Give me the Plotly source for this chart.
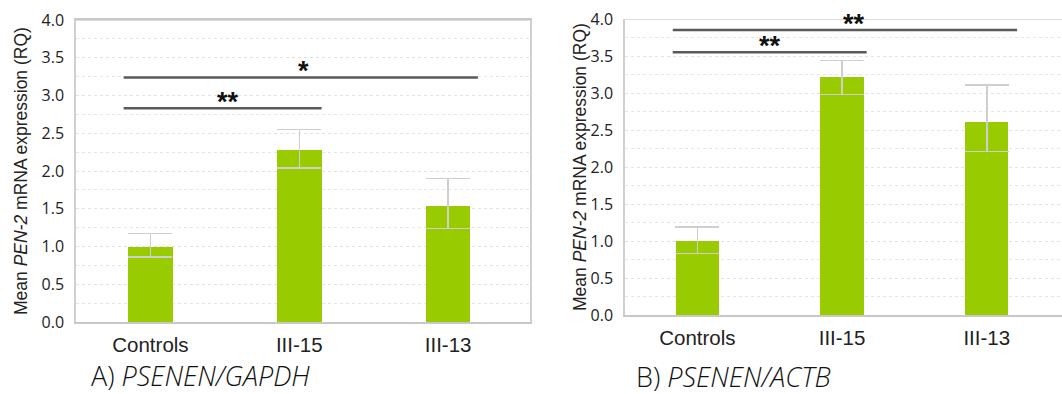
import plotly.graph_objects as go

W, H = 1062, 394

categories = ["Controls", "III-15", "III-13"]

# Panel A: PSENEN/GAPDH
a_values = [1.00, 2.28, 1.54]
a_err_up = [0.17, 0.27, 0.36]
a_err_down = [0.14, 0.24, 0.30]
# significance bars
a_sig_x0 = [-0.18, -0.18]
a_sig_x1 = [1.15, 2.20]
a_sig_y = [2.83, 3.24]
a_sig_text = ["**", "*"]
a_sig_tx = [0.52, 1.03]

# Panel B: PSENEN/ACTB
b_values = [1.00, 3.21, 2.61]
b_err_up = [0.19, 0.23, 0.50]
b_err_down = [0.17, 0.23, 0.40]
b_sig_x0 = [-0.17, -0.17]
b_sig_x1 = [1.17, 2.21]
b_sig_y = [3.55, 3.85]
b_sig_text = ["**", "**"]
b_sig_tx = [0.50, 1.08]

y_ticks = [0.0, 0.5, 1.0, 1.5, 2.0, 2.5, 3.0, 3.5, 4.0]
y_title = "Mean <i>PEN-2</i> mRNA expression (RQ)"
captions = ["A) <i>PSENEN/GAPDH</i>", "B) <i>PSENEN/ACTB</i>"]

GREEN = "#99cc00"
ERR = "#cfcfcf"
SIG = "#5a5a5a"

fig = go.Figure()

def px_x(p):
    return p / W

def px_y(p):
    return 1 - p / H

panels = [
    dict(vals=a_values, up=a_err_up, dn=a_err_down, x0=a_sig_x0, x1=a_sig_x1, sy=a_sig_y,
         st=a_sig_text, stx=a_sig_tx, xa="x", ya="y",
         dom_x=[px_x(76), px_x(530)], dom_y=[px_y(322), px_y(20)], xr=[-0.5, 2.55],
         mirror=True, title_x=21, cap_x=89, cap_y=375),
    dict(vals=b_values, up=b_err_up, dn=b_err_down, x0=b_sig_x0, x1=b_sig_x1, sy=b_sig_y,
         st=b_sig_text, stx=b_sig_tx, xa="x2", ya="y2",
         dom_x=[px_x(625), px_x(1062)], dom_y=[px_y(315), px_y(19)], xr=[-0.5, 2.52],
         mirror=False, title_x=580, cap_x=634, cap_y=376),
]

annotations = []
shapes = []
for i, p in enumerate(panels):
    fig.add_trace(go.Bar(
        x=list(range(len(categories))), y=p["vals"], width=0.30,
        marker=dict(color=GREEN, line=dict(width=0)),
        error_y=dict(type="data", array=p["up"], arrayminus=p["dn"], symmetric=False,
                     color=ERR, thickness=1.5, width=22),
        xaxis=p["xa"], yaxis=p["ya"], showlegend=False, hoverinfo="skip",
    ))
    sfx = "" if i == 0 else "2"
    fig.update_layout(**{
        "xaxis" + sfx: dict(domain=p["dom_x"], range=p["xr"], tickmode="array",
                            tickvals=list(range(len(categories))), ticktext=categories,
                            showgrid=False, zeroline=False, showline=True,
                            linecolor="#c8c8c8", linewidth=1.5, mirror=p["mirror"],
                            ticks="", ticklabelstandoff=4, automargin=False,
                            tickfont=dict(family="Liberation Sans, Arial", size=20.5, color="#222"),
                            anchor="y" + sfx),
        "yaxis" + sfx: dict(domain=p["dom_y"], range=[0, 4.0], tickmode="array",
                            tickvals=y_ticks, ticktext=[f"{v:.1f}" for v in y_ticks],
                            showgrid=True, gridcolor="#e2e2e2", griddash="dot", gridwidth=1,
                            minor=dict(dtick=0.25, showgrid=True, gridcolor="#e6e6e6",
                                       griddash="dot", gridwidth=1),
                            zeroline=False, showline=True, linecolor="#d0d0d0", linewidth=1.5,
                            mirror=p["mirror"], ticks="", ticklabelstandoff=7,
                            automargin=False,
                            tickfont=dict(family="Open Sans", size=16, color="#222"),
                            anchor="x" + sfx),
    })
    # top border line at 4.0
    shapes.append(dict(type="line", xref="paper",
                       x0=p["dom_x"][0], x1=p["dom_x"][1], yref=p["ya"], y0=4.0, y1=4.0,
                       line=dict(color="#d0d0d0", width=1.5)))
    for x0, x1, yv, txt, tx in zip(p["x0"], p["x1"], p["sy"], p["st"], p["stx"]):
        shapes.append(dict(type="line", xref=p["xa"], yref=p["ya"], x0=x0, x1=x1, y0=yv, y1=yv,
                           line=dict(color=SIG, width=2.5)))
        annotations.append(dict(xref=p["xa"], yref=p["ya"], x=tx, y=yv, text="<b>" + txt + "</b>",
                                showarrow=False, yanchor="bottom", yshift=-11,
                                font=dict(family="Liberation Sans, Arial", size=27, color="#111")))
    annotations.append(dict(xref="paper", yref="paper", x=px_x(p["title_x"]),
                            y=(p["dom_y"][0] + p["dom_y"][1]) / 2, text=y_title, textangle=-90,
                            showarrow=False, xanchor="center", yanchor="middle",
                            font=dict(family="Liberation Sans, Arial", size=17.5, color="#222")))
    annotations.append(dict(xref="paper", yref="paper", x=px_x(p["cap_x"]), y=px_y(p["cap_y"]),
                            text=captions[i], showarrow=False, xanchor="left", yanchor="middle",
                            font=dict(family="Open Sans", size=27, color="#111", weight=300)))

fig.update_layout(width=W, height=H, margin=dict(l=0, r=0, t=0, b=0),
                  paper_bgcolor="white", plot_bgcolor="white",
                  shapes=shapes, annotations=annotations, bargap=0)
fig.write_html("out.html", config={"displayModeBar": False},
               post_script="document.body.style.margin='0px';")
